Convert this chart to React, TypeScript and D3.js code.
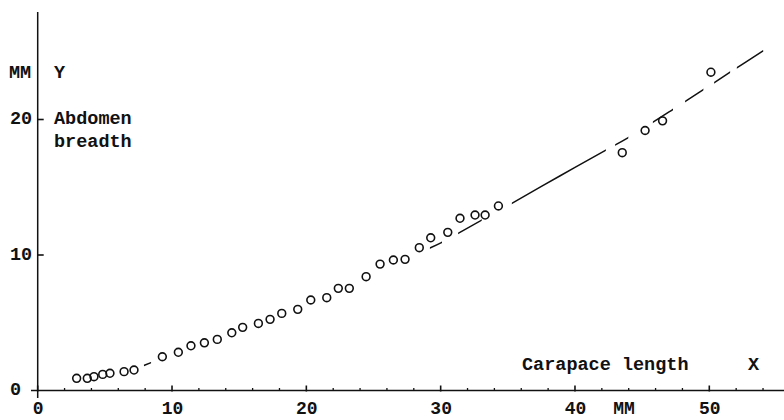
import React from "react";
import * as d3 from "d3";

// Observed specimens: carapace length (mm) vs abdomen breadth (mm)
const carapaceLength = [
  2.9, 3.69, 4.19, 4.84, 5.38, 6.43, 7.17, 9.28, 10.47, 11.41, 12.41, 13.37,
  14.45, 15.26, 16.43, 17.3, 18.17, 19.36, 20.33, 21.52, 22.38, 23.2, 24.45,
  25.49, 26.48, 27.35, 28.41, 29.26, 30.53, 31.44, 32.56, 33.31, 34.3, 43.52,
  45.22, 46.52, 50.12,
];
const abdomenBreadth = [
  0.9, 0.9, 1.02, 1.19, 1.27, 1.39, 1.51, 2.49, 2.82, 3.3, 3.52, 3.77, 4.26,
  4.66, 4.95, 5.25, 5.69, 5.99, 6.68, 6.85, 7.54, 7.54, 8.4, 9.33, 9.63, 9.68,
  10.54, 11.27, 11.67, 12.71, 12.95, 12.95, 13.62, 17.55, 19.19, 19.9, 23.49,
];

// Fitted growth curve
const curveX = [7.9, 8.44, 29.2, 30.1, 31.3, 33.06, 35.3, 38.9, 42.3, 43.97, 47.3, 49.56, 51.55, 54.03];
const curveY = [1.84, 2.06, 10.52, 10.94, 11.59, 12.58, 13.81, 15.85, 17.74, 18.66, 20.75, 22.2, 23.49, 25.09];
// Portions of the curve that are actually inked
const inkStart = [7.9, 29.2, 31.3, 35.3, 42.99, 45.8, 48.2, 50.36, 52.05];
const inkEnd = [8.44, 30.1, 33.06, 42.3, 43.97, 47.3, 49.56, 51.55, 54.03];

const xMajor = [0, 10, 20, 30, 40, 50];
const xMinor = [2, 4, 6, 8, 12, 14, 16, 18, 22, 24, 26, 28, 32, 34, 36, 38, 42, 44, 46, 48, 52, 54];
const yMajor = [0, 10, 20];

const W = 784;
const H = 420;
const FONT = "'Liberation Mono', 'Courier New', monospace";

export default function App() {
  const x = d3.scaleLinear().domain([0, 50]).range([37.7, 709.3]);
  const y = d3.scaleLinear().domain([0, 20]).range([390.5, 119.5]);

  const pts: [number, number][] = curveX.map((v, i) => [v, curveY[i]]);
  const line = d3
    .line<[number, number]>()
    .x((d) => x(d[0]))
    .y((d) => y(d[1]))
    .curve(d3.curveCatmullRom.alpha(0.5));
  const curvePath = line(pts) || "";

  const fs = 18.5;
  const textStyle: React.CSSProperties = {
    fontFamily: FONT,
    fontWeight: "bold",
    fontSize: fs,
    fill: "#111",
  };
  const tickStyle: React.CSSProperties = { ...textStyle, fontSize: 18 };

  return (
    <svg
      width={W}
      height={H}
      style={{ position: "absolute", left: 0, top: 0, background: "#fff" }}
    >
      <defs>
        <clipPath id="ink">
          {inkStart.map((s, i) => (
            <rect key={i} x={x(s)} y={0} width={x(inkEnd[i]) - x(s)} height={H} />
          ))}
        </clipPath>
      </defs>

      {/* axes */}
      <line x1={x(0)} x2={x(0)} y1={12} y2={398} stroke="#111" strokeWidth={1.5} />
      <line x1={31} x2={W} y1={y(0)} y2={y(0)} stroke="#111" strokeWidth={1.5} />

      {/* x ticks */}
      {xMajor.map((v) => (
        <line key={"xM" + v} x1={x(v)} x2={x(v)} y1={y(0) - 5} y2={y(0) + 1} stroke="#111" strokeWidth={1.6} />
      ))}
      {xMinor.map((v) => (
        <line key={"xm" + v} x1={x(v)} x2={x(v)} y1={y(0) - 2.5} y2={y(0) + 0.5} stroke="#111" strokeWidth={1.3} />
      ))}
      {/* y ticks */}
      {yMajor.slice(1).map((v) => (
        <line key={"yM" + v} x1={x(0)} x2={x(0) + 6} y1={y(v)} y2={y(v)} stroke="#111" strokeWidth={1.6} />
      ))}

      {/* x tick labels */}
      {xMajor.map((v) => (
        <text key={"xl" + v} x={x(v) + 0.5} y={413.5} textAnchor="middle" style={tickStyle}>
          {v}
        </text>
      ))}
      <text x={624} y={413.5} textAnchor="middle" style={tickStyle}>MM</text>

      {/* y tick labels (left-aligned, as typed) */}
      {yMajor.map((v) => (
        <text key={"yl" + v} x={10} y={y(v) + 4.5} style={textStyle}>
          {v}
        </text>
      ))}

      <text x={9} y={78} style={textStyle}>MM</text>
      <text x={54} y={78} style={textStyle}>Y</text>
      <text x={54} y={124} style={textStyle}>Abdomen</text>
      <text x={54} y={146.5} style={textStyle}>breadth</text>
      <text x={522} y={370} style={textStyle}>Carapace length</text>
      <text x={748} y={370} style={textStyle}>X</text>

      {/* fitted curve */}
      <path d={curvePath} fill="none" stroke="#111" strokeWidth={1.5} clipPath="url(#ink)" />

      {/* observations */}
      {carapaceLength.map((v, i) => (
        <circle
          key={"p" + i}
          cx={x(v)}
          cy={y(abdomenBreadth[i])}
          r={3.9}
          fill="none"
          stroke="#111"
          strokeWidth={1.6}
        />
      ))}
    </svg>
  );
}
